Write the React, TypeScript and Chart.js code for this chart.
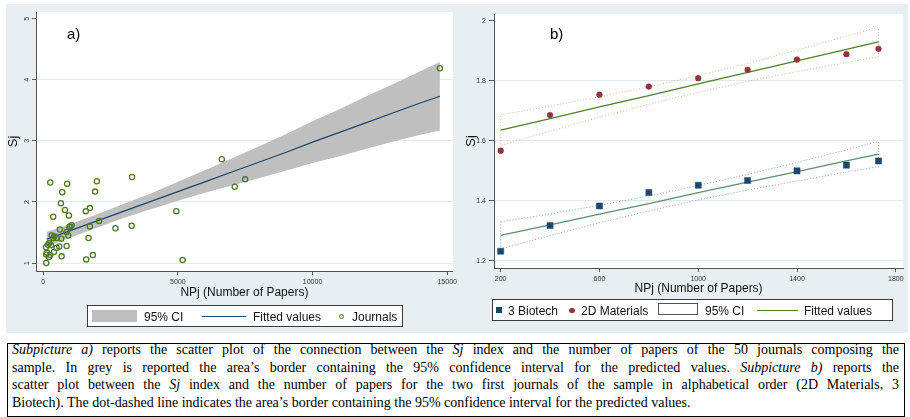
import React, { useEffect, useRef } from "react";
import { Chart, registerables } from "chart.js";
Chart.register(...registerables);

// ---------- Subpicture a) data ----------
const journalPapers = [259, 889, 704, 656, 804, 370, 952, 1052, 970, 619, 867, 311, 407, 507, 378, 667, 926, 222, 174, 100, 285, 496, 593, 867, 396, 137, 259, 211, 111, 681, 111, 1593, 1841, 1681, 1730, 1581, 1730, 1926, 1989, 2074, 2681, 3285, 3296, 4941, 5174, 6630, 7111, 7496, 14730, 1000];
const journalSj = [2.32, 2.30, 2.16, 1.98, 1.87, 1.76, 1.78, 1.62, 1.59, 1.55, 1.51, 1.45, 1.44, 1.41, 1.41, 1.40, 1.45, 1.33, 1.30, 1.26, 1.29, 1.25, 1.27, 1.28, 1.18, 1.17, 1.13, 1.10, 1.14, 1.11, 1.00, 1.06, 1.13, 1.41, 1.60, 1.85, 1.90, 2.17, 2.34, 1.69, 1.57, 1.61, 2.41, 1.85, 1.05, 2.70, 2.25, 2.37, 4.19, 1.60];
const fitAPapers = [126, 1000, 2000, 3000, 4000, 5000, 6000, 7000, 8000, 9000, 10000, 11000, 12000, 13000, 14000, 14730];
const fitASj = [1.39, 1.53, 1.69, 1.85, 2.01, 2.17, 2.33, 2.49, 2.65, 2.81, 2.98, 3.14, 3.30, 3.46, 3.62, 3.73];
const ciAUpper = [1.51, 1.64, 1.80, 1.97, 2.14, 2.33, 2.52, 2.71, 2.91, 3.11, 3.32, 3.52, 3.73, 3.93, 4.14, 4.29];
const ciALower = [1.27, 1.42, 1.58, 1.74, 1.88, 2.02, 2.15, 2.27, 2.39, 2.51, 2.64, 2.75, 2.87, 2.99, 3.10, 3.17];
const xTicksA = [0, 5000, 10000, 15000];
const yTicksA = [1, 2, 3, 4, 5];

// ---------- Subpicture b) data ----------
const papersB = [200, 400, 600, 800, 1000, 1200, 1400, 1600, 1730];
const materials2D = [1.567, 1.686, 1.754, 1.781, 1.809, 1.837, 1.871, 1.889, 1.907];
const biotech3 = [1.232, 1.318, 1.383, 1.428, 1.452, 1.468, 1.500, 1.519, 1.533];
const fit2D = [1.636, 1.674, 1.713, 1.751, 1.790, 1.828, 1.867, 1.905, 1.930];
const ci2DUpper = [1.687, 1.716, 1.747, 1.780, 1.818, 1.858, 1.903, 1.949, 1.979];
const ci2DLower = [1.585, 1.632, 1.679, 1.722, 1.762, 1.798, 1.831, 1.861, 1.881];
const fitBio = [1.285, 1.320, 1.356, 1.391, 1.427, 1.462, 1.497, 1.533, 1.556];
const ciBioUpper = [1.330, 1.356, 1.385, 1.416, 1.451, 1.488, 1.528, 1.570, 1.598];
const ciBioLower = [1.240, 1.284, 1.327, 1.366, 1.403, 1.436, 1.466, 1.496, 1.514];
const xTicksB = [200, 600, 1000, 1400, 1800];
const yTicksB = [1.2, 1.4, 1.6, 1.8, 2];

const captionLines = [
  ["Subpicture a)", " reports the scatter plot of the connection between the ", "Sj", " index and the number of papers of the 50 journals composing the"],
  ["", "sample. In grey is reported the area\u2019s border containing the 95% confidence interval for the predicted values. ", "Subpicture b)", " reports the"],
  ["", "scatter plot between the ", "Sj", " index and the number of papers for the two first journals of the sample in alphabetical order (2D Materials, 3"],
  ["", "Biotech). The dot-dashed line indicates the area\u2019s border containing the 95% confidence interval for the predicted values.", "", ""],
];

const SANS = "'Liberation Sans', Arial, sans-serif";
const SERIF = "'Liberation Serif', 'Times New Roman', serif";
const BG = "#e8eff2";
const GRID = "#e1e9ed";
const AXIS = "#555555";
const NAVY = "#1a476f";
const JGREEN = "#4e7a26";
const MAROON = "#90353b";
const GREEN2D = "#4f7f2a";
const GREENBIO = "#5f8f6a";

const pts = (xs: number[], ys: number[]) => xs.map((x, i) => ({ x, y: ys[i] }));
const outline = (xs: number[], up: number[], lo: number[]) => [
  ...pts(xs, up),
  ...pts(xs, lo).reverse(),
  { x: xs[0], y: up[0] },
];

const plotBg = {
  id: "plotBg",
  beforeDraw(chart: any) {
    const { ctx, chartArea: a } = chart;
    ctx.save();
    ctx.fillStyle = "#ffffff";
    ctx.fillRect(a.left, a.top, a.right - a.left, a.bottom - a.top);
    ctx.restore();
  },
};

function makeScales(o: any) {
  return {
    x: {
      type: "linear",
      min: o.xmin,
      max: o.xmax,
      afterBuildTicks: (s: any) => {
        s.ticks = o.xTicks.map((v: number) => ({ value: v }));
      },
      afterFit: (s: any) => {
        s.height = o.xHeight;
      },
      grid: { drawOnChartArea: false, tickLength: 4, tickColor: AXIS, tickWidth: 1 },
      border: { display: true, color: AXIS, width: 1 },
      ticks: {
        font: { size: 7, family: SANS },
        color: "#333",
        padding: 3,
        minRotation: 0,
        maxRotation: 0,
        autoSkip: false,
        callback: (v: any) => String(v),
      },
      title: { display: true, text: "NPj (Number of Papers)", font: { size: 12, family: SANS }, color: "#111", padding: { top: 0, bottom: o.xTitlePad } },
    },
    y: {
      type: "linear",
      min: o.ymin,
      max: o.ymax,
      afterBuildTicks: (s: any) => {
        s.ticks = o.yTicks.map((v: number) => ({ value: v }));
      },
      afterFit: (s: any) => {
        s.width = o.yWidth;
      },
      grid: {
        color: (c: any) => (c.tick && Math.abs(c.tick.value - o.yTicks[o.yTicks.length - 1]) < 1e-9 ? "rgba(0,0,0,0)" : GRID),
        lineWidth: 1,
        tickLength: o.yTickLen,
        tickColor: AXIS,
      },
      border: { display: true, color: AXIS, width: 1 },
      ticks: {
        font: { size: 7, family: SANS },
        color: "#333",
        padding: 3,
        minRotation: o.yRot,
        maxRotation: o.yRot,
        crossAlign: o.yRot ? "center" : "near",
        autoSkip: false,
        callback: (v: any) => String(v),
      },
      title: { display: true, text: "Sj", font: { size: 13, family: SANS }, color: "#111", padding: { top: o.yTitlePad, bottom: 0 } },
    },
  };
}

function ChartA() {
  const ref = useRef<HTMLCanvasElement>(null);
  useEffect(() => {
    const chart = new Chart(ref.current as HTMLCanvasElement, {
      type: "line",
      data: {
        datasets: [
          { label: "95% CI", data: pts(fitAPapers, ciAUpper), borderWidth: 0, pointRadius: 0, fill: "+1", backgroundColor: "#bfbfbf", order: 2 } as any,
          { label: "95% CI lower", data: pts(fitAPapers, ciALower), borderWidth: 0, pointRadius: 0, fill: false, order: 3 },
          { label: "Fitted values", data: pts(fitAPapers, fitASj), borderColor: NAVY, borderWidth: 1.2, pointRadius: 0, fill: false, order: 1 },
          {
            label: "Journals",
            data: pts(journalPapers, journalSj),
            showLine: false,
            pointRadius: 2.6,
            pointBorderWidth: 1.3,
            pointBorderColor: JGREEN,
            pointBackgroundColor: "rgba(0,0,0,0)",
            order: 0,
          },
        ],
      },
      options: {
        animation: false,
        responsive: false,
        layout: { padding: { left: 0, right: 6, top: 8, bottom: 0 } },
        plugins: { legend: { display: false }, tooltip: { enabled: false } },
        scales: makeScales({
          xmin: -270, xmax: 15210, ymin: 0.87, ymax: 5.11, xTicks: xTicksA, yTicks: yTicksA,
          xHeight: 29, yWidth: 30, xTitlePad: 0, yTitlePad: 0, yRot: 90, yTickLen: 4,
        }) as any,
      },
      plugins: [plotBg],
    });
    return () => chart.destroy();
  }, []);
  return <canvas ref={ref} width={454} height={296} style={{ position: "absolute", left: 6, top: 4, width: 454, height: 296 }} />;
}

function ChartB() {
  const ref = useRef<HTMLCanvasElement>(null);
  useEffect(() => {
    const chart = new Chart(ref.current as HTMLCanvasElement, {
      type: "line",
      data: {
        datasets: [
          { label: "95% CI 2D", data: outline(papersB, ci2DUpper, ci2DLower), borderColor: "#c9b98f", borderWidth: 1, borderDash: [1, 2], pointRadius: 0, fill: false, order: 3 },
          { label: "95% CI Bio", data: outline(papersB, ciBioUpper, ciBioLower), borderColor: "#8a9cb8", borderWidth: 1, borderDash: [1, 2], pointRadius: 0, fill: false, order: 3 },
          { label: "Fitted values 2D", data: pts(papersB, fit2D), borderColor: GREEN2D, borderWidth: 1.3, pointRadius: 0, fill: false, order: 2 },
          { label: "Fitted values Bio", data: pts(papersB, fitBio), borderColor: GREENBIO, borderWidth: 1.3, pointRadius: 0, fill: false, order: 2 },
          {
            label: "2D Materials",
            data: pts(papersB, materials2D),
            showLine: false,
            pointStyle: "circle",
            pointRadius: 2.9,
            pointBorderWidth: 0.5,
            pointBorderColor: MAROON,
            pointBackgroundColor: MAROON,
            order: 0,
          },
          {
            label: "3 Biotech",
            data: pts(papersB, biotech3),
            showLine: false,
            pointStyle: "rect",
            pointRadius: 4.3,
            pointBorderWidth: 0.5,
            pointBorderColor: NAVY,
            pointBackgroundColor: NAVY,
            order: 0,
          },
        ],
      },
      options: {
        animation: false,
        responsive: false,
        layout: { padding: { left: 0, right: 4, top: 10, bottom: 0 } },
        plugins: { legend: { display: false }, tooltip: { enabled: false } },
        scales: makeScales({
          xmin: 173, xmax: 1830, ymin: 1.176, ymax: 2.023, xTicks: xTicksB, yTicks: yTicksB,
          xHeight: 32, yWidth: 34, xTitlePad: 4, yTitlePad: 4, yRot: 0, yTickLen: 5,
        }) as any,
      },
      plugins: [plotBg],
    });
    return () => chart.destroy();
  }, []);
  return <canvas ref={ref} width={448} height={296} style={{ position: "absolute", left: 460, top: 4, width: 448, height: 296 }} />;
}

const legendText = (left: number, cy: number, text: string) => (
  <div style={{ position: "absolute", left, top: cy - 7, height: 14, lineHeight: "14px", fontSize: 12, fontFamily: SANS, color: "#111", whiteSpace: "nowrap" }}>{text}</div>
);

export default function App() {
  useEffect(() => {
    document.body.style.margin = "0";
  }, []);
  return (
    <div style={{ position: "absolute", left: 0, top: 0, width: 910, height: 417, background: "#fff", overflow: "hidden" }}>
      <div style={{ position: "absolute", left: 6, top: 4, width: 902, height: 329, background: BG }} />
      <ChartA />
      <ChartB />
      <div style={{ position: "absolute", left: 67, top: 25, fontFamily: SANS, fontSize: 15, lineHeight: "18px", color: "#000" }}>a)</div>
      <div style={{ position: "absolute", left: 550, top: 25, fontFamily: SANS, fontSize: 15, lineHeight: "18px", color: "#000" }}>b)</div>

      {/* legend a */}
      <div style={{ position: "absolute", left: 87, top: 305, width: 316, height: 22, boxSizing: "border-box", border: "1px solid #3a3a3a", background: "#fff" }} />
      <div style={{ position: "absolute", left: 92, top: 310, width: 45, height: 12, background: "#bfbfbf" }} />
      {legendText(144, 316.5, "95% CI")}
      <div style={{ position: "absolute", left: 202, top: 315.5, width: 44, height: 1.3, background: NAVY }} />
      {legendText(253, 316.5, "Fitted values")}
      <div style={{ position: "absolute", left: 339, top: 313.5, width: 5, height: 5, boxSizing: "border-box", border: `1.3px solid ${JGREEN}`, borderRadius: "50%" }} />
      {legendText(352, 316.5, "Journals")}

      {/* legend b */}
      <div style={{ position: "absolute", left: 492, top: 299, width: 401, height: 22, boxSizing: "border-box", border: "1px solid #3a3a3a", background: "#fff" }} />
      <div style={{ position: "absolute", left: 496, top: 307, width: 6, height: 6, background: NAVY }} />
      {legendText(508, 310.5, "3 Biotech")}
      <div style={{ position: "absolute", left: 569, top: 307.5, width: 5.5, height: 5.5, borderRadius: "50%", background: MAROON }} />
      {legendText(581, 310.5, "2D Materials")}
      <div style={{ position: "absolute", left: 658, top: 303, width: 40, height: 12, boxSizing: "border-box", border: "1px solid #555" }} />
      {legendText(705, 310.5, "95% CI")}
      <div style={{ position: "absolute", left: 757, top: 309.5, width: 41, height: 1.3, background: GREEN2D }} />
      {legendText(804, 310.5, "Fitted values")}

      {/* caption */}
      <div style={{ position: "absolute", left: 7, top: 343, width: 898, height: 74, boxSizing: "border-box", border: "1px solid #000" }} />
      <div style={{ position: "absolute", left: 12, top: 341, width: 887, fontFamily: SERIF, fontSize: 14, lineHeight: "17.6px", color: "#000" }}>
        {captionLines.map((ln, i) => (
          <div
            key={i}
            style={{
              whiteSpace: "nowrap",
              textAlign: i < 3 ? "justify" : "left",
              textAlignLast: i < 3 ? "justify" : "left",
            } as any}
          >
            {ln[0] ? <i>{ln[0]}</i> : null}
            {ln[1]}
            {ln[2] ? <i>{ln[2]}</i> : null}
            {ln[3]}
          </div>
        ))}
      </div>
    </div>
  );
}
